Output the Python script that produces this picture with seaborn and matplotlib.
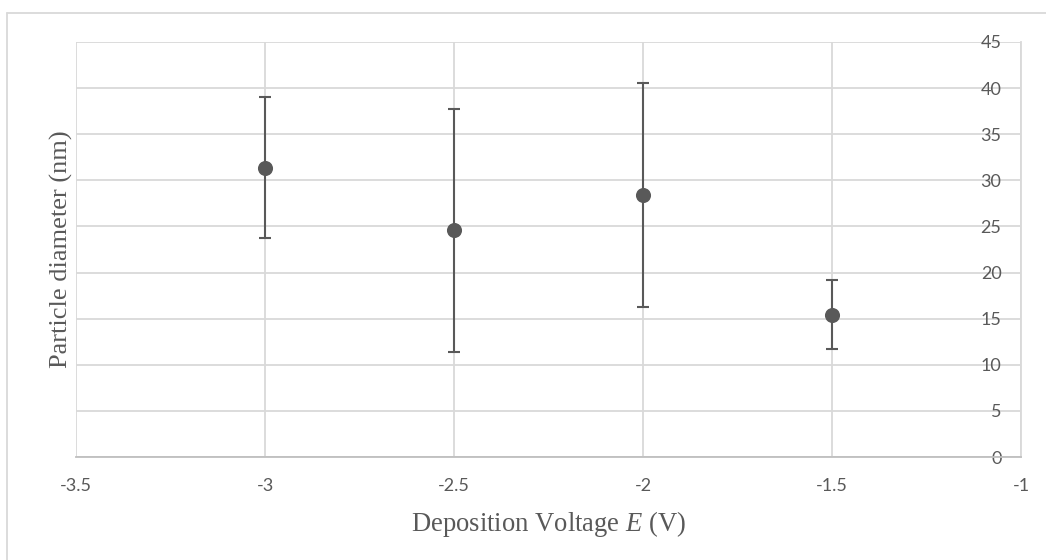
import matplotlib
matplotlib.use("Agg")
import matplotlib.pyplot as plt
import seaborn as sns
import pandas as pd
from matplotlib.lines import Line2D

# Data
voltage = [-3.0, -2.5, -2.0, -1.5]
diameter = [31.3, 24.6, 28.4, 15.4]
err_low = [23.7, 11.4, 16.3, 11.7]
err_high = [39.0, 37.7, 40.5, 19.2]
x_ticks = [-3.5, -3.0, -2.5, -2.0, -1.5, -1.0]
x_tick_labels = ["-3.5", "-3", "-2.5", "-2", "-1.5", "-1"]
y_ticks = [0, 5, 10, 15, 20, 25, 30, 35, 40, 45]

sns.set_theme(style="white")
plt.rcParams["font.family"] = ["Lato", "DejaVu Sans"]
plt.rcParams["mathtext.fontset"] = "custom"
plt.rcParams["mathtext.rm"] = "Liberation Serif"
plt.rcParams["mathtext.it"] = "Liberation Serif:italic"

df = pd.DataFrame({"E": voltage, "d": diameter})

fig = plt.figure(figsize=(10.46, 5.6), dpi=100)
ax = fig.add_axes([76 / 1046, 103 / 560, 945 / 1046, 415 / 560])

mark = "#595959"
grid = "#d9d9d9"

yerr = [[d - lo for d, lo in zip(diameter, err_low)],
        [hi - d for d, hi in zip(diameter, err_high)]]
ax.errorbar(voltage, diameter, yerr=yerr, fmt="none", ecolor=mark,
            elinewidth=1.5, capsize=4.2, capthick=1.5, zorder=3)
sns.scatterplot(data=df, x="E", y="d", ax=ax, color=mark, s=118,
                edgecolor=mark, linewidth=0, zorder=4)

ax.set_xlim(-3.5, -1.0)
ax.set_ylim(0, 45)
ax.set_xticks(x_ticks)
ax.set_xticklabels(x_tick_labels)
ax.set_yticks(y_ticks)
ax.grid(True, color=grid, linewidth=1.3)
ax.set_axisbelow(True)

for s in ["top", "left"]:
    ax.spines[s].set_visible(False)
ax.spines["right"].set_color(grid)
ax.spines["right"].set_linewidth(1.3)
ax.spines["bottom"].set_color("#bfbfbf")
ax.spines["bottom"].set_linewidth(1.3)

ax.yaxis.tick_right()
ax.yaxis.set_label_position("left")
ax.tick_params(axis="y", length=0, pad=-14, labelsize=13, labelcolor=mark)
for lab in ax.get_yticklabels():
    lab.set_horizontalalignment("right")
ax.tick_params(axis="x", length=0, pad=15, labelsize=13, labelcolor=mark)

ax.set_ylabel("Particle diameter (nm)", family="Liberation Serif",
              fontsize=19, color=mark, labelpad=2)
ax.set_xlabel("Deposition Voltage $\\mathit{E}$ (V)", family="Liberation Serif",
              fontsize=19.2, color=mark, labelpad=11)

# outer chart frame (left and top edges visible)
fig.add_artist(Line2D([7 / 1046, 7 / 1046], [0, 1 - 13 / 560],
                      transform=fig.transFigure, color=grid, linewidth=1.3))
fig.add_artist(Line2D([7 / 1046, 1], [1 - 13 / 560, 1 - 13 / 560],
                      transform=fig.transFigure, color=grid, linewidth=1.3))

fig.savefig("out.png", dpi=100, facecolor="white")
